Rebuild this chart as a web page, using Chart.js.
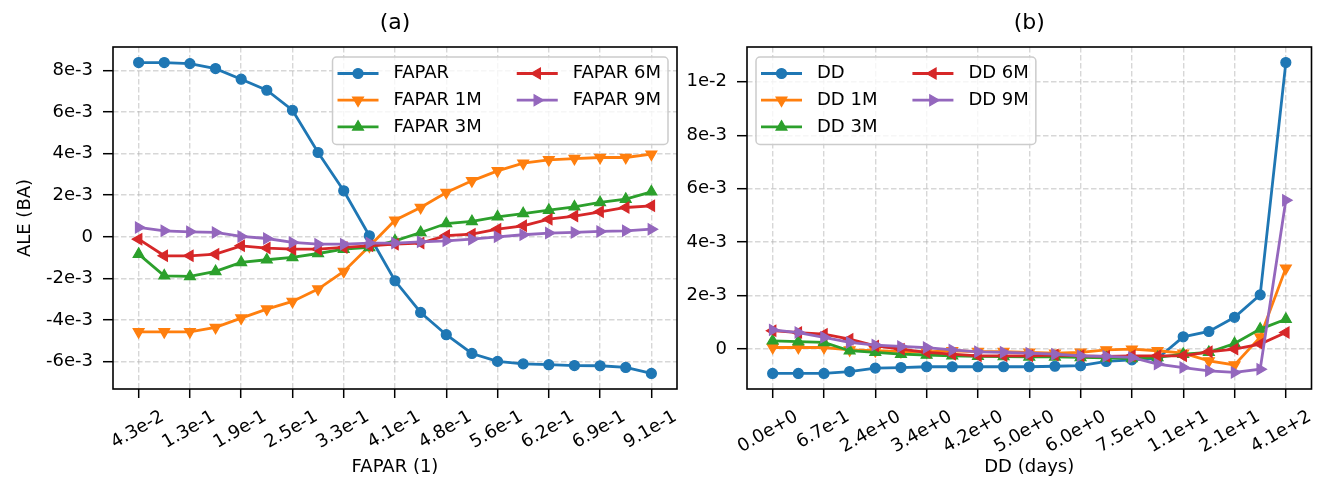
<!DOCTYPE html>
<html><head><meta charset="utf-8">
<script src="https://cdn.jsdelivr.net/npm/chart.js@4.4.1/dist/chart.umd.min.js"></script>
<style>
html,body{margin:0;padding:0;background:#fff;}
body{width:1319px;height:480px;position:relative;overflow:hidden;}
canvas{position:absolute;top:0;}
#ca{left:0;}
#cb{left:660px;}
</style></head><body>
<canvas id="ca" width="700" height="480"></canvas>
<canvas id="cb" width="659" height="480"></canvas>
<script>
// ---------- data ----------
const faparTicks = ['4.3e-2','1.3e-1','1.9e-1','2.5e-1','3.3e-1','4.1e-1','4.8e-1','5.6e-1','6.2e-1','6.9e-1','9.1e-1'];
const ddTicks = ['0.0e+0','6.7e-1','2.4e+0','3.4e+0','4.2e+0','5.0e+0','6.0e+0','7.5e+0','1.1e+1','2.1e+1','4.1e+2'];

const faparLabels = ['FAPAR','FAPAR 1M','FAPAR 3M','FAPAR 6M','FAPAR 9M'];
const fapar   = [8.37e-3,8.37e-3,8.32e-3,8.08e-3,7.57e-3,7.04e-3,6.08e-3,4.05e-3,2.21e-3,0.05e-3,-2.11e-3,-3.63e-3,-4.70e-3,-5.60e-3,-5.98e-3,-6.10e-3,-6.14e-3,-6.18e-3,-6.19e-3,-6.27e-3,-6.56e-3];
const fapar1M = [-4.56e-3,-4.56e-3,-4.56e-3,-4.35e-3,-3.90e-3,-3.47e-3,-3.10e-3,-2.51e-3,-1.66e-3,-0.45e-3,0.80e-3,1.41e-3,2.13e-3,2.69e-3,3.17e-3,3.54e-3,3.70e-3,3.76e-3,3.81e-3,3.81e-3,3.97e-3];
const fapar3M = [-0.83e-3,-1.87e-3,-1.90e-3,-1.66e-3,-1.23e-3,-1.10e-3,-0.99e-3,-0.80e-3,-0.59e-3,-0.51e-3,-0.19e-3,0.21e-3,0.64e-3,0.74e-3,0.96e-3,1.12e-3,1.28e-3,1.44e-3,1.65e-3,1.81e-3,2.16e-3];
const fapar6M = [-0.11e-3,-0.91e-3,-0.91e-3,-0.83e-3,-0.43e-3,-0.54e-3,-0.59e-3,-0.59e-3,-0.51e-3,-0.43e-3,-0.35e-3,-0.30e-3,0.06e-3,0.13e-3,0.37e-3,0.53e-3,0.85e-3,1.00e-3,1.20e-3,1.41e-3,1.49e-3];
const fapar9M = [0.45e-3,0.29e-3,0.24e-3,0.21e-3,0.02e-3,-0.08e-3,-0.27e-3,-0.35e-3,-0.35e-3,-0.30e-3,-0.30e-3,-0.24e-3,-0.19e-3,-0.11e-3,0.00,0.10e-3,0.18e-3,0.21e-3,0.26e-3,0.29e-3,0.37e-3];

const ddLabels = ['DD','DD 1M','DD 3M','DD 6M','DD 9M'];
const dd   = [-0.91e-3,-0.91e-3,-0.91e-3,-0.84e-3,-0.71e-3,-0.69e-3,-0.66e-3,-0.66e-3,-0.66e-3,-0.66e-3,-0.66e-3,-0.64e-3,-0.62e-3,-0.46e-3,-0.40e-3,-0.35e-3,0.46e-3,0.66e-3,1.19e-3,2.03e-3,10.72e-3];
const dd1M = [0.06e-3,0.06e-3,0.06e-3,-0.03e-3,-0.06e-3,-0.09e-3,-0.10e-3,-0.06e-3,-0.09e-3,-0.09e-3,-0.12e-3,-0.15e-3,-0.12e-3,-0.03e-3,0.00,-0.06e-3,-0.15e-3,-0.44e-3,-0.59e-3,0.45e-3,3.03e-3];
const dd3M = [0.31e-3,0.28e-3,0.25e-3,-0.06e-3,-0.12e-3,-0.19e-3,-0.22e-3,-0.25e-3,-0.27e-3,-0.28e-3,-0.29e-3,-0.29e-3,-0.31e-3,-0.33e-3,-0.35e-3,-0.31e-3,-0.19e-3,-0.12e-3,0.21e-3,0.75e-3,1.12e-3];
const dd6M = [0.69e-3,0.62e-3,0.56e-3,0.37e-3,0.12e-3,0.00,-0.12e-3,-0.19e-3,-0.25e-3,-0.25e-3,-0.25e-3,-0.22e-3,-0.25e-3,-0.27e-3,-0.25e-3,-0.25e-3,-0.25e-3,-0.10e-3,0.00,0.19e-3,0.62e-3];
const dd9M = [0.72e-3,0.62e-3,0.44e-3,0.25e-3,0.15e-3,0.10e-3,0.06e-3,-0.03e-3,-0.10e-3,-0.12e-3,-0.15e-3,-0.19e-3,-0.25e-3,-0.27e-3,-0.31e-3,-0.56e-3,-0.69e-3,-0.81e-3,-0.87e-3,-0.75e-3,5.57e-3];

// ---------- style ----------
const FONT = 'DejaVu Sans';
const COLORS = ['#1f77b4','#ff7f0e','#2ca02c','#d62728','#9467bd'];
const MARKERS = [
  {style:'circle', rot:0, r:5},
  {style:'triangle', rot:180, r:6.3},
  {style:'triangle', rot:0, r:6.3},
  {style:'triangle', rot:-90, r:6.3},
  {style:'triangle', rot:90, r:6.3}
];
const GRID = 'rgba(176,176,176,0.5)';

function fmtSci(v){
  if (Math.abs(v) < 1e-12) return '0';
  const e = Math.floor(Math.log10(Math.abs(v)) + 1e-9);
  const m = Math.round(v / Math.pow(10, e) * 10) / 10;
  return m + 'e' + e;
}

function drawMarker(ctx, m, color, x, y){
  ctx.save();
  ctx.fillStyle = color; ctx.strokeStyle = color; ctx.lineWidth = 1.2;
  ctx.beginPath();
  if (m.style === 'circle') {
    ctx.arc(x, y, m.r, 0, Math.PI*2);
  } else {
    let a = m.rot * Math.PI / 180;
    for (let k = 0; k < 3; k++) {
      const px = x + Math.sin(a) * m.r, py = y - Math.cos(a) * m.r;
      if (k === 0) ctx.moveTo(px, py); else ctx.lineTo(px, py);
      a += 2*Math.PI/3;
    }
    ctx.closePath();
  }
  ctx.fill(); ctx.stroke();
  ctx.restore();
}

const deco = {
  id: 'deco',
  afterDraw(chart, args, opts){
    const ctx = chart.ctx, a = chart.chartArea;
    ctx.save();
    // frame
    ctx.strokeStyle = '#000'; ctx.lineWidth = 1.6;
    ctx.strokeRect(a.left, a.top, a.right - a.left, a.bottom - a.top);
    // legend
    const ds = chart.data.datasets;
    ctx.font = '18px "' + FONT + '"';
    const nRows = Math.ceil(ds.length / 2);
    const c1 = ds.slice(0, nRows), c2 = ds.slice(nRows);
    const w1 = Math.max(...c1.map(d => ctx.measureText(d.label).width));
    const w2 = Math.max(...c2.map(d => ctx.measureText(d.label).width));
    const padL = 5, hl = 41, gap = 15, cs = 35, padR = 7, rowH = 26.7;
    const W = padL + hl + gap + w1 + cs + hl + gap + w2 + padR;
    const H = 16.5 + (nRows - 1) * rowH + 17.5;
    const x0 = opts.anchor === 'right' ? a.right - 9 - W : a.left + 9;
    const y0 = a.top + 10;
    ctx.beginPath();
    if (ctx.roundRect) ctx.roundRect(x0, y0, W, H, 4); else ctx.rect(x0, y0, W, H);
    ctx.fillStyle = 'rgba(255,255,255,0.8)'; ctx.fill();
    ctx.strokeStyle = '#cccccc'; ctx.lineWidth = 1.5; ctx.stroke();
    ds.forEach((d, i) => {
      const col = i < nRows ? 0 : 1, row = i < nRows ? i : i - nRows;
      const hx = x0 + padL + (col ? hl + gap + w1 + cs : 0);
      const y = y0 + 16.5 + row * rowH;
      ctx.strokeStyle = d.borderColor; ctx.lineWidth = d.borderWidth;
      ctx.beginPath(); ctx.moveTo(hx, y); ctx.lineTo(hx + hl, y); ctx.stroke();
      drawMarker(ctx, MARKERS[i], d.borderColor, hx + hl/2, y);
      ctx.fillStyle = '#000'; ctx.textAlign = 'left'; ctx.textBaseline = 'middle';
      ctx.font = '18px "' + FONT + '"';
      ctx.fillText(d.label, hx + hl + gap, y);
    });
    ctx.restore();
  }
};

function makeChart(canvasId, cfg){
  const all = cfg.series.flat();
  const lo = Math.min(...all), hi = Math.max(...all);
  const pad = 0.05 * (hi - lo);
  const n = cfg.series[0].length;
  const datasets = cfg.series.map((s, i) => ({
    label: cfg.labels[i],
    data: s.map((v, k) => ({x: k, y: v})),
    borderColor: COLORS[i],
    backgroundColor: COLORS[i],
    pointBackgroundColor: COLORS[i],
    pointBorderColor: COLORS[i],
    pointBorderWidth: 1.2,
    borderWidth: 2.8,
    pointStyle: MARKERS[i].style,
    pointRotation: MARKERS[i].rot,
    pointRadius: MARKERS[i].r,
    pointHoverRadius: MARKERS[i].r,
    tension: 0,
    order: cfg.series.length - i
  }));
  const gridOpts = {color: GRID, lineWidth: 1.4, tickColor: '#000', tickLength: 9, tickWidth: 1.5, tickBorderDash: []};
  return new Chart(document.getElementById(canvasId), {
    type: 'line',
    data: {datasets},
    plugins: [deco],
    options: {
      responsive: false,
      animation: false,
      events: [],
      devicePixelRatio: 1,
      layout: {padding: {left: 0, right: cfg.padRight, top: 0, bottom: 0}},
      plugins: {
        legend: {display: false},
        tooltip: {enabled: false},
        title: {display: true, text: cfg.title, fullSize: false, color: '#000',
                font: {family: FONT, size: 22, weight: 'normal'}, padding: {top: 10, bottom: 10.6}},
        deco: {anchor: cfg.legendAnchor}
      },
      scales: {
        x: {
          type: 'linear', min: -0.05 * (n - 1), max: (n - 1) * 1.05,
          afterBuildTicks(s){ s.ticks = cfg.ticks.map((_, j) => ({value: j * 2})); },
          afterFit(s){ s.height = 91; },
          ticks: {autoSkip: false, minRotation: 30, maxRotation: 30, labelOffset: 24, padding: 8,
                  font: {family: FONT, size: 18}, color: '#000',
                  callback: (v) => cfg.ticks[Math.round(v / 2)] ?? ''},
          grid: gridOpts,
          border: {display: false, dash: [5.5, 2.5]},
          title: {display: true, text: cfg.xTitle, color: '#000', font: {family: FONT, size: 18}, padding: {top: 0, bottom: 1.4}}
        },
        y: {
          min: lo - pad, max: hi + pad,
          afterFit(s){ s.width = cfg.yWidth; },
          ticks: {stepSize: 0.002, includeBounds: false, font: {family: FONT, size: 18}, color: '#000', padding: 10,
                  callback: (v) => fmtSci(v)},
          grid: Object.assign({}, gridOpts, {tickLength: 10}),
          border: {display: false, dash: [5.5, 2.5]},
          title: {display: !!cfg.yTitle, text: cfg.yTitle || '', color: '#000', font: {family: FONT, size: 18}, padding: {top: 15, bottom: 0}}
        }
      }
    }
  });
}

makeChart('ca', {
  title: '(a)', xTitle: 'FAPAR (1)', yTitle: 'ALE (BA)',
  ticks: faparTicks, labels: faparLabels,
  series: [fapar, fapar1M, fapar3M, fapar6M, fapar9M],
  yWidth: 113, padRight: 23, legendAnchor: 'right'
});
makeChart('cb', {
  title: '(b)', xTitle: 'DD (days)', yTitle: '',
  ticks: ddTicks, labels: ddLabels,
  series: [dd, dd1M, dd3M, dd6M, dd9M],
  yWidth: 87, padRight: 7, legendAnchor: 'left'
});
</script>
</body></html>
